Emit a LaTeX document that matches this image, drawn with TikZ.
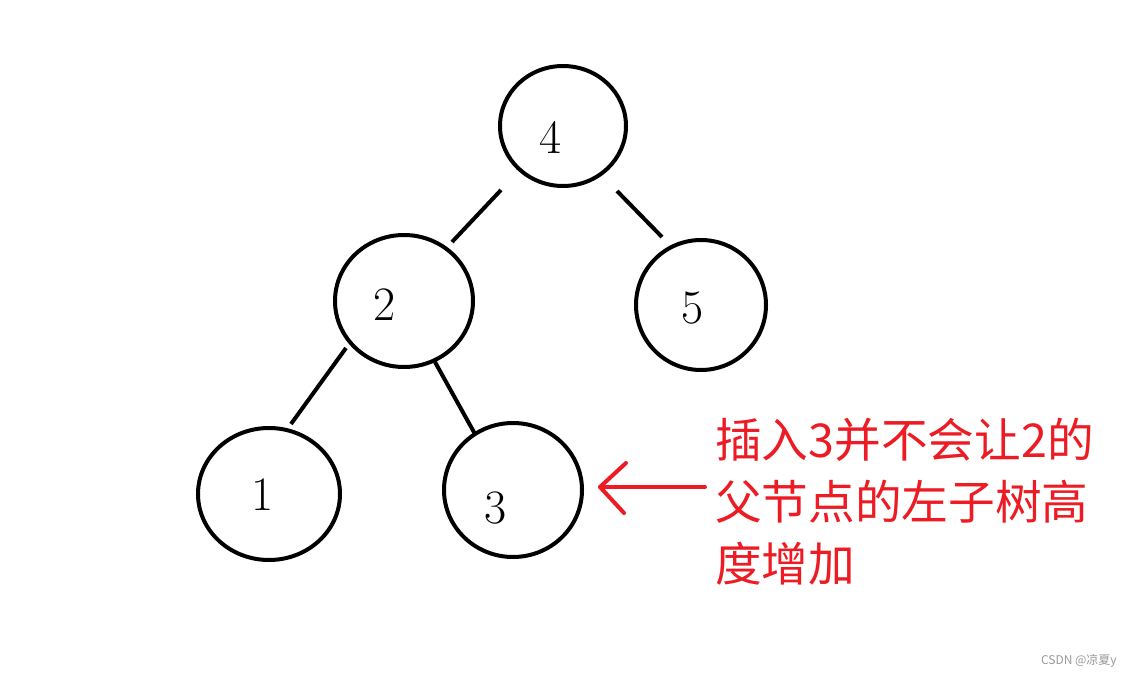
\documentclass[tikz,border=0pt]{standalone}
\usepackage{fontspec}
\newfontfamily\cjk{Noto Sans CJK SC}
\definecolor{annred}{HTML}{ED1C24}
\definecolor{wmgray}{HTML}{9A9A9A}
\begin{document}
\begin{tikzpicture}[x=0.75pt,y=-0.75pt,
  treenode/.style={draw=black,line width=3pt,ellipse},
  edge/.style={draw=black,line width=3pt},
  digit/.style={font=\fontsize{36}{40}\selectfont,inner sep=0pt},
  redline/.style={draw=annred,line width=3pt,line cap=round,line join=round},
  redtext/.style={text=annred,font=\cjk\fontsize{35}{42}\selectfont,inner sep=0pt,anchor=base west}]
\fill[white] (0,0) rectangle (1132,677);
\useasboundingbox (0,0) rectangle (1132,677);
% circles
\draw[line width=3pt] (563,126) ellipse [x radius=63, y radius=60];
\draw[line width=3pt] (404,301) ellipse [x radius=69, y radius=66];
\draw[line width=3pt] (701,305) ellipse [x radius=65, y radius=65];
\draw[line width=3pt] (269,494) ellipse [x radius=71, y radius=66];
\draw[line width=3pt] (513,490) ellipse [x radius=69, y radius=67];
% labels
\node[digit] (n4) at (551,137) {4};
\node[digit] (n2) at (385,305) {2};
\node[digit] (n5) at (693,308) {5};
\node[digit] (n1) at (263,495) {1};
\node[digit] (n3) at (496,508) {3};
% edge end points
\coordinate (e42a) at (501,190); \coordinate (e42b) at (452,242);
\coordinate (e45a) at (617,191); \coordinate (e45b) at (662,237);
\coordinate (e21a) at (346,348); \coordinate (e21b) at (291,424);
\coordinate (e23a) at (435,362); \coordinate (e23b) at (475,434);
\draw[edge] (e42a) -- (e42b);
\draw[edge] (e45a) -- (e45b);
\draw[edge] (e21a) -- (e21b);
\draw[edge] (e23a) -- (e23b);
% red arrow
\coordinate (atail) at (705,487);
\coordinate (ahead) at (600,487);
\coordinate (aup) at (626,463);
\coordinate (adown) at (624,513);
\draw[redline] (atail) -- (ahead);
\draw[redline] (aup) -- (ahead) -- (adown);
% red text
\node[redtext] (t1) at (715,457) {插入3并不会让2的};
\node[redtext] (t2) at (715,519) {父节点的左子树高};
\node[redtext] (t3) at (715,581) {度增加};
% watermark
\node[text=wmgray,font=\cjk\fontsize{9}{10}\selectfont,inner sep=0pt,anchor=east] (wm) at (1117,661) {CSDN @凉夏y};
\end{tikzpicture}
\end{document}
